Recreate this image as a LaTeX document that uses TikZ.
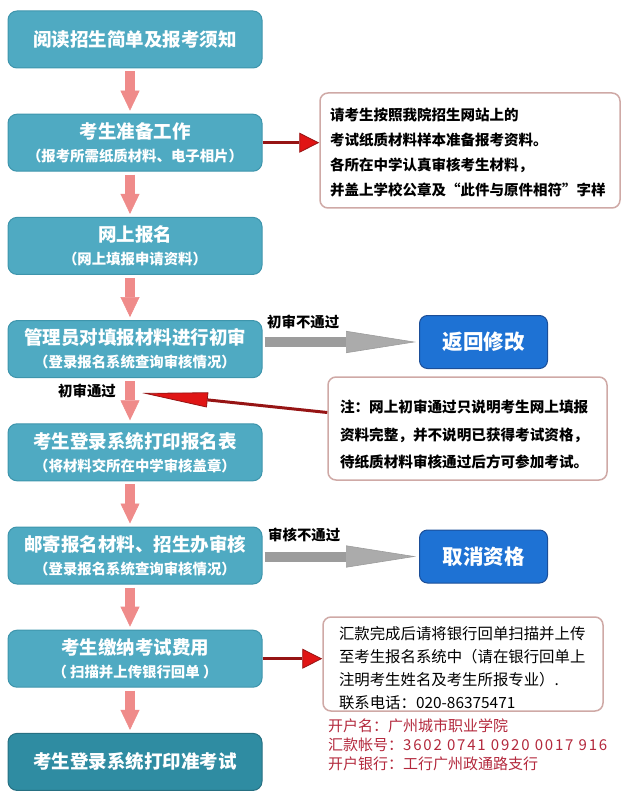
\documentclass[tikz,border=0pt]{standalone}
\usepackage{fontspec}
\setmainfont{Noto Sans CJK SC}
\usetikzlibrary{arrows.meta,positioning}
\definecolor{boxteal}{HTML}{4FAAC2}
\definecolor{boxedge}{HTML}{3E95AC}
\definecolor{lastteal}{HTML}{2F8CA2}
\definecolor{downpink}{HTML}{EF8B8A}
\definecolor{headred}{HTML}{E01515}
\definecolor{shaftred}{HTML}{961414}
\definecolor{noteedge}{HTML}{CFA9A6}
\definecolor{backblue}{HTML}{1E72D4}
\definecolor{backedge}{HTML}{1B4E98}
\definecolor{failgray}{HTML}{9C9C9C}
\definecolor{bankred}{HTML}{B3283C}
\tikzstyle{process} = [rectangle, rounded corners=9pt, minimum width=254pt, minimum height=57pt, text centered, align=center, draw=boxedge, line width=1pt, fill=boxteal, text=white, font=\bfseries\fontsize{18.5}{23}\selectfont]
\tikzstyle{final} = [process, fill=lastteal, draw=lastteal!80!black]
\tikzstyle{redo} = [rectangle, rounded corners=8pt, minimum width=128pt, minimum height=53pt, draw=backedge, line width=1pt, fill=backblue, text=white, font=\bfseries\fontsize{20.5}{24}\selectfont]
\tikzstyle{note} = [rectangle, rounded corners=8pt, draw=noteedge, line width=1.5pt, fill=white, align=left]
\tikzstyle{tag} = [inner sep=0pt, anchor=west, font=\bfseries\fontsize{14.4}{16}\selectfont]
\tikzstyle{down} = [draw=downpink, line width=10pt, -{Triangle[length=20pt,width=19pt,line width=0.6pt]}, shorten <=3pt, shorten >=3pt, transform canvas={xshift=-5pt}]
\tikzstyle{fail} = [draw=failgray, line width=10pt, -{Triangle[length=70pt,width=22pt,line width=0.6pt,fill=failgray!85]}, shorten <=2pt, shorten >=3pt]
\tikzstyle{hint} = [draw=shaftred, line width=3pt, -{Triangle[length=20pt,width=20pt,line width=0.8pt,fill=headred]}]

\begin{document}
\begin{tikzpicture}[x=1pt, y=-1pt, node distance=103.2pt]
    \useasboundingbox (0,0) rectangle (630,799);
    % main steps
    \node (b1)[process] at (135,39.5){阅读招生简单及报考须知};
    \node (b2)[process, below of=b1]{考生准备工作\\ \fontsize{14.4}{21}\selectfont （报考所需纸质材料、电子相片）};
    \node (b3)[process, below of=b2]{网上报名\\ \fontsize{14.4}{21}\selectfont （网上填报申请资料）};
    \node (b4)[process, below of=b3]{管理员对填报材料进行初审\\ \fontsize{14.4}{21}\selectfont （登录报名系统查询审核情况）};
    \node (b5)[process, below of=b4]{考生登录系统打印报名表\\ \fontsize{14.4}{21}\selectfont （将材料交所在中学审核盖章）};
    \node (b6)[process, below of=b5]{邮寄报名材料、招生办审核\\ \fontsize{14.4}{21}\selectfont （登录报名系统查询审核情况）};
    \node (b7)[process, below of=b6]{考生缴纳考试费用\\ \fontsize{14.4}{21}\selectfont （ 扫描并上传银行回单 ）};
    \node (b8)[final, below of=b7]{考生登录系统打印准考试};

    % side boxes
    \node (back)[redo] at (483.5,342){返回修改};
    \node (cancel)[redo] at (483.5,556.5){取消资格};
    \node (note1)[note, minimum width=300pt, minimum height=115pt, text width=280pt, inner xsep=10pt, font=\bfseries\fontsize{14.5}{25}\selectfont] at (470,150.5){\rule{0pt}{16pt}请考生按照我院招生网站上的\\
考试纸质材料样本准备报考资料。\\
各所在中学认真审核考生材料，\\
并盖上学校公章及“此件与原件相符”字样};
    \node (note2)[note, minimum width=279pt, minimum height=103pt, text width=255pt, inner xsep=12pt, font=\bfseries\fontsize{14.6}{27.5}\selectfont] at (467.5,428.5){\rule{0pt}{25pt}注：网上初审通过只说明考生网上填报\\
资料完整，并不说明已获得考试资格，\\
待纸质材料审核通过后方可参加考试。};
    \node (note3)[note, minimum width=280pt, minimum height=94pt, text width=248pt, inner xsep=16pt, inner ysep=0pt, font=\fontsize{15.4}{23}\selectfont] at (463,664){\rule{0pt}{21pt}汇款完成后请将银行回单扫描并上传\\
至考生报名系统中（请在银行回单上\\
注明考生姓名及考生所报专业）.\\
联系电话：020-86375471};
    \node (bank)[inner sep=0pt, anchor=north west, align=left, text=bankred, font=\fontsize{15}{19}\selectfont] at (328,719){开户名：广州城市职业学院\\
汇款帐号：{\addfontfeature{LetterSpace=12}3602 0741 0920 0017 916}\\
开户银行：工行广州政通路支行};

    % labels
    \node (nopass1)[tag] at (267,322){初审不通过};
    \node (nopass2)[tag] at (268,535){审核不通过};
    \node (pass)[tag] at (58,391){初审通过};
    \coordinate (passtip) at (142,393);

    \draw[down] (b1)--(b2);
    \draw[down] (b2)--(b3);
    \draw[down] (b3)--(b4);
    \draw[down] (b4)--(b5);
    \draw[down] (b5)--(b6);
    \draw[down] (b6)--(b7);
    \draw[down] (b7)--(b8);
    \draw[fail] (b4.east |- back)--(back.west);
    \draw[fail] (b6.east |- cancel)--(cancel.west);
    \draw[hint] (b2.east)--(b2.east -| note1.west);
    \draw[hint] (b7.east)--(b7.east -| note3.west);
    \draw[hint, -{Triangle[length=66pt,width=15pt,line width=0.8pt,fill=headred]}] ([yshift=16pt]note2.west)--(passtip);

  \end{tikzpicture}
\end{document}
